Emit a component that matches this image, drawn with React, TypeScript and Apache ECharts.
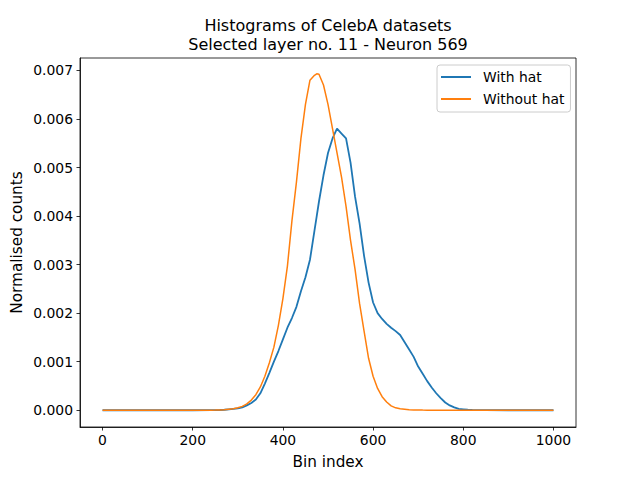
import React, { useEffect, useRef } from "react";
import * as echarts from "echarts";

const bins = [
  0, 50, 100, 150, 200, 240,
  250, 260, 270, 280, 290, 300, 310, 320, 330, 340, 350, 360, 370, 380, 390,
  400, 410, 420, 430, 440, 450, 460, 470, 475, 480, 490,
  500, 510, 520, 530, 540, 550, 560, 570, 580, 590,
  600, 610, 620, 630, 640, 650, 660, 670, 680, 690,
  700, 710, 720, 730, 740, 750, 760, 770, 780, 790,
  800, 810, 820, 830, 840, 850, 900, 950, 1000,
];

const withHat = [
  0, 0, 0, 0, 0, 0.000001,
  0.000003, 0.000005, 0.00001, 0.00002, 0.00003, 0.00004, 0.00006, 0.0001, 0.00015, 0.00022, 0.00035, 0.00055, 0.00077, 0.001, 0.00122,
  0.00146, 0.0017, 0.0019, 0.00213, 0.00245, 0.00274, 0.0031, 0.0037, 0.004, 0.0043, 0.00484,
  0.0053, 0.0056, 0.0058, 0.0057, 0.0056, 0.0051, 0.0044, 0.00385, 0.00318, 0.00263,
  0.00222, 0.002, 0.00188, 0.00178, 0.0017, 0.00163, 0.00155, 0.0014, 0.00125, 0.0011,
  0.0009, 0.00075, 0.0006, 0.00047, 0.00035, 0.00025, 0.00016, 0.0001, 0.00006, 0.00003,
  0.00002, 0.00001, 0.000005, 0.000003, 0.000002, 0.000001, 0, 0, 0,
];

const withoutHat = [
  0, 0, 0, 0, 0, 0.000002,
  0.000003, 0.000005, 0.00001, 0.00002, 0.00003, 0.00005, 0.00008, 0.00013, 0.00021, 0.00032, 0.00048, 0.0007, 0.00098, 0.0013, 0.00175,
  0.0023, 0.00297, 0.0039, 0.0047, 0.0056, 0.0063, 0.0068, 0.0069, 0.00693, 0.00692, 0.0067,
  0.0063, 0.0058, 0.0053, 0.0048, 0.0042, 0.0035, 0.0029, 0.0022, 0.00163, 0.00107,
  0.0007, 0.00045, 0.00028, 0.00017, 0.00009, 0.00005, 0.00003, 0.00002, 0.00001, 0.000007,
  0.000005, 0.000003, 0.000002, 0.000001, 0.000001, 0, 0, 0, 0, 0,
  0, 0, 0, 0, 0, 0, 0, 0, 0,
];

const xTicks = [0, 200, 400, 600, 800, 1000];
const yTicks = [0, 0.001, 0.002, 0.003, 0.004, 0.005, 0.006, 0.007];

const titleLines = ["Histograms of CelebA datasets", "Selected layer no. 11 - Neuron 569"];
const xLabel = "Bin index";
const yLabel = "Normalised counts";
const seriesNames = ["With hat", "Without hat"];

const FONT = "DejaVu Sans";

export default function App() {
  const ref = useRef<HTMLDivElement>(null);

  useEffect(() => {
    document.body.style.margin = "0";
    if (!ref.current) return;
    const chart = echarts.init(ref.current, null, { renderer: "svg" });
    const axisLine = {
      show: true,
      onZero: false,
      lineStyle: { color: "#000", width: 0.8 },
    };
    const tickCommon = {
      show: true,
      inside: false,
      length: 3.5,
      lineStyle: { color: "#000", width: 0.8 },
    };
    chart.setOption({
      animation: false,
      backgroundColor: "#ffffff",
      textStyle: { fontFamily: FONT },
      grid: {
        left: 80,
        right: 64,
        top: 58,
        bottom: 53,
        show: true,
        borderColor: "#000000",
        borderWidth: 0.8,
        backgroundColor: "transparent",
      },
      xAxis: {
        type: "value",
        min: -50,
        max: 1050,
        axisLine,
        splitLine: { show: false },
        axisTick: { ...tickCommon, customValues: xTicks },
        axisLabel: {
          show: true,
          margin: 6,
          fontSize: 13.9,
          color: "#000",
          fontFamily: FONT,
          customValues: xTicks,
          formatter: (v: number) => String(v),
        },
      },
      yAxis: {
        type: "value",
        min: -0.000345,
        max: 0.007256,
        axisLine,
        splitLine: { show: false },
        axisTick: { ...tickCommon, customValues: yTicks },
        axisLabel: {
          show: true,
          margin: 7,
          fontSize: 13.9,
          color: "#000",
          fontFamily: FONT,
          customValues: yTicks,
          formatter: (v: number) => v.toFixed(3),
        },
      },
      legend: {
        orient: "vertical",
        left: 437,
        top: 65,
        itemWidth: 30,
        itemHeight: 2,
        icon: "rect",
        itemGap: 6,
        padding: [4, 6, 5, 4],
        borderColor: "#cccccc",
        borderWidth: 1,
        borderRadius: 3,
        backgroundColor: "rgba(255,255,255,0.8)",
        textStyle: {
          fontFamily: FONT,
          fontSize: 13.9,
          color: "#000",
          lineHeight: 16,
          padding: [0, 0, 0, 7],
        },
        data: seriesNames,
      },
      graphic: [
        {
          type: "text",
          x: 328,
          y: 25.5,
          style: {
            text: titleLines[0],
            align: "center",
            verticalAlign: "middle",
            fontSize: 16,
            fontFamily: FONT,
            fill: "#000",
          },
        },
        {
          type: "text",
          x: 328,
          y: 44.5,
          style: {
            text: titleLines[1],
            align: "center",
            verticalAlign: "middle",
            fontSize: 16,
            fontFamily: FONT,
            fill: "#000",
          },
        },
        {
          type: "text",
          x: 328,
          y: 461.5,
          style: { text: xLabel, align: "center", verticalAlign: "middle", fontSize: 15.28, fontFamily: FONT, fill: "#000" },
        },
        {
          type: "text",
          x: 16.5,
          y: 242.5,
          rotation: Math.PI / 2,
          style: { text: yLabel, align: "center", verticalAlign: "middle", fontSize: 15.28, fontFamily: FONT, fill: "#000" },
        },
      ],
      series: [
        {
          name: seriesNames[0],
          type: "line",
          color: "#1f77b4",
          showSymbol: false,
          symbol: "none",
          lineStyle: { width: 1.8, color: "#1f77b4" },
          data: bins.map((b, i) => [b, withHat[i]]),
        },
        {
          name: seriesNames[1],
          type: "line",
          color: "#ff7f0e",
          showSymbol: false,
          symbol: "none",
          lineStyle: { width: 1.5, color: "#ff7f0e" },
          data: bins.map((b, i) => [b, withoutHat[i]]),
        },
      ],
    });
    return () => chart.dispose();
  }, []);

  return <div ref={ref} style={{ width: 640, height: 480 }} />;
}
